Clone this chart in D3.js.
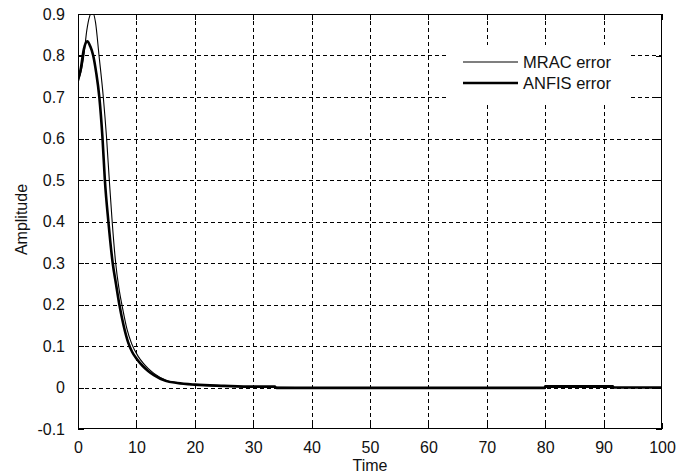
<!DOCTYPE html>
<html>
<head>
<meta charset="utf-8">
<script src="https://cdn.jsdelivr.net/npm/d3@7"></script>
<style>
  html, body { margin: 0; padding: 0; background: #fff; }
  svg { display: block; font-family: "Liberation Sans", Arial, sans-serif; }
</style>
</head>
<body>
<svg id="chart" width="677" height="476"></svg>
<script>
// Tracking error of the two controllers over time
const mracTime  = [0, 0.5, 1, 1.5, 2, 2.45, 3, 3.6, 4.33, 4.9, 5.36, 5.85, 6.45, 7.0, 7.65, 8.4, 9.2, 10.3, 11.2, 12, 13, 15, 18, 20, 25, 30, 40, 60, 80, 100];
const mracError = [0.74, 0.76, 0.80, 0.86, 0.895, 0.905, 0.88, 0.8, 0.7, 0.6, 0.5, 0.4, 0.3, 0.24, 0.19, 0.14, 0.105, 0.075, 0.058, 0.046, 0.034, 0.018, 0.009, 0.006, 0.003, 0.001, 0, 0, 0, 0];

const anfisTime  = [0, 0.5, 1, 1.6, 2.1, 2.6, 3.1, 3.65, 4.2, 4.6, 5.2, 5.94, 6.5, 7.08, 7.8, 8.6, 9.3, 10, 11, 12, 13, 15, 17, 20, 25, 30, 33.7, 34, 40, 60, 79.9, 80, 91.6, 91.7, 100];
const anfisError = [0.74, 0.77, 0.815, 0.834, 0.822, 0.8, 0.76, 0.7, 0.6, 0.5, 0.4, 0.3, 0.25, 0.2, 0.15, 0.108, 0.085, 0.07, 0.053, 0.04, 0.03, 0.016, 0.011, 0.007, 0.004, 0.002, 0.002, -0.001, -0.001, -0.001, -0.001, 0.003, 0.003, 0.0, 0.0];

const xTicks = [0, 10, 20, 30, 40, 50, 60, 70, 80, 90, 100];
const yTicks = [-0.1, 0, 0.1, 0.2, 0.3, 0.4, 0.5, 0.6, 0.7, 0.8, 0.9];
const seriesNames = ["MRAC error", "ANFIS error"];

const margin = { left: 78, right: 15, top: 14, bottom: 47 };
const W = 677, H = 476;
const pw = W - margin.left - margin.right;
const ph = H - margin.top - margin.bottom;

const svg = d3.select("#chart");
const g = svg.append("g").attr("transform", `translate(${margin.left},${margin.top})`);

const x = d3.scaleLinear().domain([0, 100]).range([0, pw]);
const y = d3.scaleLinear().domain([-0.1, 0.9]).range([ph, 0]);

// dashed grid
const grid = g.append("g").attr("stroke", "#000").attr("stroke-width", 1)
  .attr("stroke-dasharray", "4,3").attr("shape-rendering", "crispEdges");
xTicks.slice(1, -1).forEach(t => {
  grid.append("line").attr("x1", Math.round(x(t)) + 0.5).attr("x2", Math.round(x(t)) + 0.5)
    .attr("y1", 0).attr("y2", ph);
});
yTicks.slice(1, -1).forEach(t => {
  grid.append("line").attr("y1", Math.round(y(t)) + 0.5).attr("y2", Math.round(y(t)) + 0.5)
    .attr("x1", 0).attr("x2", pw);
});

// axes with labels (plain hyphen for negatives)
const yLab = v => (Math.abs(v) < 1e-9 ? "0" : v.toFixed(1));
const xAxis = d3.axisBottom(x).tickValues(xTicks).tickSize(-6).tickPadding(13).tickFormat(d3.format("d"));
const yAxis = d3.axisLeft(y).tickValues(yTicks).tickSize(-6).tickPadding(13).tickFormat(yLab);

const gx = g.append("g").attr("transform", `translate(0,${ph})`).call(xAxis);
const gy = g.append("g").call(yAxis);
[gx, gy].forEach(a => {
  a.select(".domain").remove();
  a.selectAll("line").attr("stroke", "#000").attr("shape-rendering", "crispEdges");
  a.selectAll("text").attr("font-size", 16).attr("fill", "#111")
    .attr("font-family", "'Liberation Sans', Arial, sans-serif");
});
// ticks on the top and right edges too
const gxt = g.append("g").call(d3.axisTop(x).tickValues(xTicks).tickSize(-6).tickFormat(""));
const gyr = g.append("g").attr("transform", `translate(${pw},0)`).call(d3.axisRight(y).tickValues(yTicks).tickSize(-6).tickFormat(""));
[gxt, gyr].forEach(a => {
  a.select(".domain").remove();
  a.selectAll("line").attr("stroke", "#000").attr("shape-rendering", "crispEdges");
});

// clip for the curves
svg.append("defs").append("clipPath").attr("id", "plotClip")
  .append("rect").attr("x", 0).attr("y", 0).attr("width", pw).attr("height", ph);

const line = d3.line().x(d => x(d[0])).y(d => y(d[1])).curve(d3.curveMonotoneX);
const plot = g.append("g").attr("clip-path", "url(#plotClip)");

plot.append("path").datum(d3.zip(mracTime, mracError))
  .attr("d", line).attr("fill", "none").attr("stroke", "#000").attr("stroke-width", 1.1);
plot.append("path").datum(d3.zip(anfisTime, anfisError))
  .attr("d", line).attr("fill", "none").attr("stroke", "#000").attr("stroke-width", 2.6);

// legend
const lg = g.append("g").attr("transform", `translate(${448 - margin.left},${45 - margin.top})`);
lg.append("rect").attr("x", 0).attr("y", 0).attr("width", 180).attr("height", 57).attr("fill", "#fff");
const lw = [1.1, 2.6];
seriesNames.forEach((name, i) => {
  const ly = 17 + i * 21;
  lg.append("line").attr("x1", 15).attr("x2", 70).attr("y1", ly).attr("y2", ly)
    .attr("stroke", "#000").attr("stroke-width", lw[i]);
  lg.append("text").attr("x", 75).attr("y", ly + 6).attr("font-size", 16.5).attr("fill", "#111")
    .text(name);
});

// frame
g.append("rect").attr("x", 0.5).attr("y", 0.5).attr("width", pw - 1).attr("height", ph - 1)
  .attr("fill", "none").attr("stroke", "#000").attr("stroke-width", 1).attr("shape-rendering", "crispEdges");

// axis titles
svg.append("text").attr("x", margin.left + pw / 2).attr("y", 471).attr("text-anchor", "middle")
  .attr("font-size", 16).attr("fill", "#111").text("Time");
svg.append("text").attr("transform", `translate(27,${margin.top + ph / 2 - 2}) rotate(-90)`)
  .attr("text-anchor", "middle").attr("font-size", 16).attr("fill", "#111").text("Amplitude");
</script>
</body>
</html>
